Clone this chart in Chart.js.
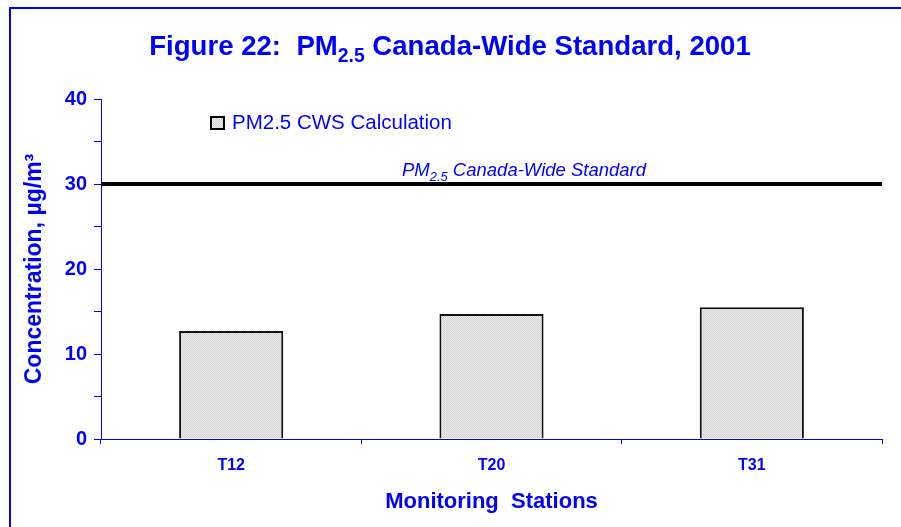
<!DOCTYPE html>
<html>
<head>
<meta charset="utf-8">
<script src="https://cdn.jsdelivr.net/npm/chart.js@4/dist/chart.umd.min.js"></script>
<style>
  html, body { margin: 0; padding: 0; background: #fff; }
  #wrap { width: 901px; height: 527px; position: relative; }
</style>
</head>
<body>
<div id="wrap"><canvas id="chart"></canvas></div>
<script>
const stations = ["T12", "T20", "T31"];
const cwsValues = [12.7, 14.7, 15.5];
const standardValue = 30;
const seriesName = "PM2.5 CWS Calculation";

const BLUE = "#0000ff";
const FONT = "'Liberation Sans', Arial, sans-serif";

// dotted grey fill like the original bars
function makePattern() {
	const c = document.createElement("canvas");
	c.width = 2; c.height = 2;
	const g = c.getContext("2d");
	g.fillStyle = "#ededed";
	g.fillRect(0, 0, 2, 2);
	g.fillStyle = "#d2d2d2";
	g.fillRect(0, 0, 1, 1);
	g.fillRect(1, 1, 1, 1);
	return g.createPattern(c, "repeat");
}
const barFill = makePattern();

// draws text pieces, some of them as subscripts
function drawPieces(ctx, pieces, x, y, size, style, align) {
	let total = 0;
	pieces.forEach(p => {
		ctx.font = style + " " + (p.sub ? size * 0.7 : size) + "px " + FONT;
		p.w = ctx.measureText(p.t).width;
		total += p.w;
	});
	let cx = align === "center" ? x - total / 2 : x;
	pieces.forEach(p => {
		ctx.font = style + " " + (p.sub ? size * 0.7 : size) + "px " + FONT;
		ctx.fillText(p.t, cx, p.sub ? y + size * 0.25 : y);
		cx += p.w;
	});
}

const extras = {
	id: "extras",
	beforeDraw(chart) {
		const ctx = chart.ctx;
		ctx.save();
		// outer frame
		ctx.strokeStyle = BLUE;
		ctx.lineWidth = 2;
		ctx.beginPath();
		ctx.moveTo(10, 540);
		ctx.lineTo(10, 8);
		ctx.lineTo(910, 8);
		ctx.stroke();
		// title
		ctx.fillStyle = BLUE;
		ctx.textBaseline = "alphabetic";
		ctx.textAlign = "left";
		drawPieces(ctx, [
			{ t: "Figure 22:  PM" },
			{ t: "2.5", sub: true },
			{ t: " Canada-Wide Standard, 2001" }
		], 450, 55, 27.6, "bold", "center");
		ctx.restore();
	},
	afterDatasetsDraw(chart) {
		const ctx = chart.ctx;
		const area = chart.chartArea;
		const yS = chart.scales.y;
		ctx.save();
		// standard line
		const y = yS.getPixelForValue(standardValue);
		ctx.strokeStyle = "#000";
		ctx.lineWidth = 4;
		ctx.beginPath();
		ctx.moveTo(area.left, y);
		ctx.lineTo(area.right, y);
		ctx.stroke();
		ctx.fillStyle = BLUE;
		ctx.textBaseline = "alphabetic";
		ctx.textAlign = "left";
		drawPieces(ctx, [
			{ t: "PM" },
			{ t: "2.5", sub: true },
			{ t: " Canada-Wide Standard" }
		], 402, y - 8, 18.5, "italic", "left");
		// legend
		ctx.fillStyle = barFill;
		ctx.fillRect(211, 117, 13, 12);
		ctx.strokeStyle = "#000";
		ctx.lineWidth = 2;
		ctx.strokeRect(211, 117, 13, 12);
		ctx.fillStyle = BLUE;
		ctx.font = "20.5px " + FONT;
		ctx.textBaseline = "middle";
		ctx.fillText(chart.data.datasets[0].label, 232, 123);
		ctx.restore();
	}
};

new Chart(document.getElementById("chart"), {
	type: "bar",
	data: {
		labels: stations,
		datasets: [{
			label: seriesName,
			data: cwsValues,
			backgroundColor: barFill,
			borderColor: "#111",
			borderWidth: 2,
			barPercentage: 0.4,
			categoryPercentage: 1.0
		}]
	},
	options: {
		responsive: true,
		maintainAspectRatio: false,
		animation: false,
		layout: { padding: { top: 99, right: 19, left: 0, bottom: 0 } },
		plugins: {
			legend: { display: false },
			tooltip: { enabled: false }
		},
		scales: {
			x: {
				afterFit(scale) { scale.height = 88; },
				grid: {
					offset: true,
					drawOnChartArea: false,
					color: BLUE,
					tickLength: 5
				},
				border: { color: BLUE, width: 1 },
				ticks: {
					color: BLUE,
					padding: 12,
					font: { family: FONT, size: 16, weight: "bold" }
				},
				title: {
					display: true,
					text: "Monitoring  Stations",
					color: BLUE,
					padding: { top: 0, bottom: 12 },
					font: { family: FONT, size: 22, weight: "bold" }
				}
			},
			y: {
				min: 0,
				max: 40,
				afterFit(scale) { scale.width = 101; },
				grid: {
					drawOnChartArea: false,
					color: BLUE,
					tickLength: 7
				},
				border: { color: BLUE, width: 1 },
				ticks: {
					stepSize: 5,
					color: BLUE,
					padding: 7,
					font: { family: FONT, size: 20, weight: "bold" },
					callback: v => (v % 10 === 0 ? v : "")
				},
				title: {
					display: true,
					text: "Concentration, µg/m³",
					color: BLUE,
					padding: { top: 21, bottom: 0 },
					font: { family: FONT, size: 23, weight: "bold" }
				}
			}
		}
	},
	plugins: [extras]
});
</script>
</body>
</html>
